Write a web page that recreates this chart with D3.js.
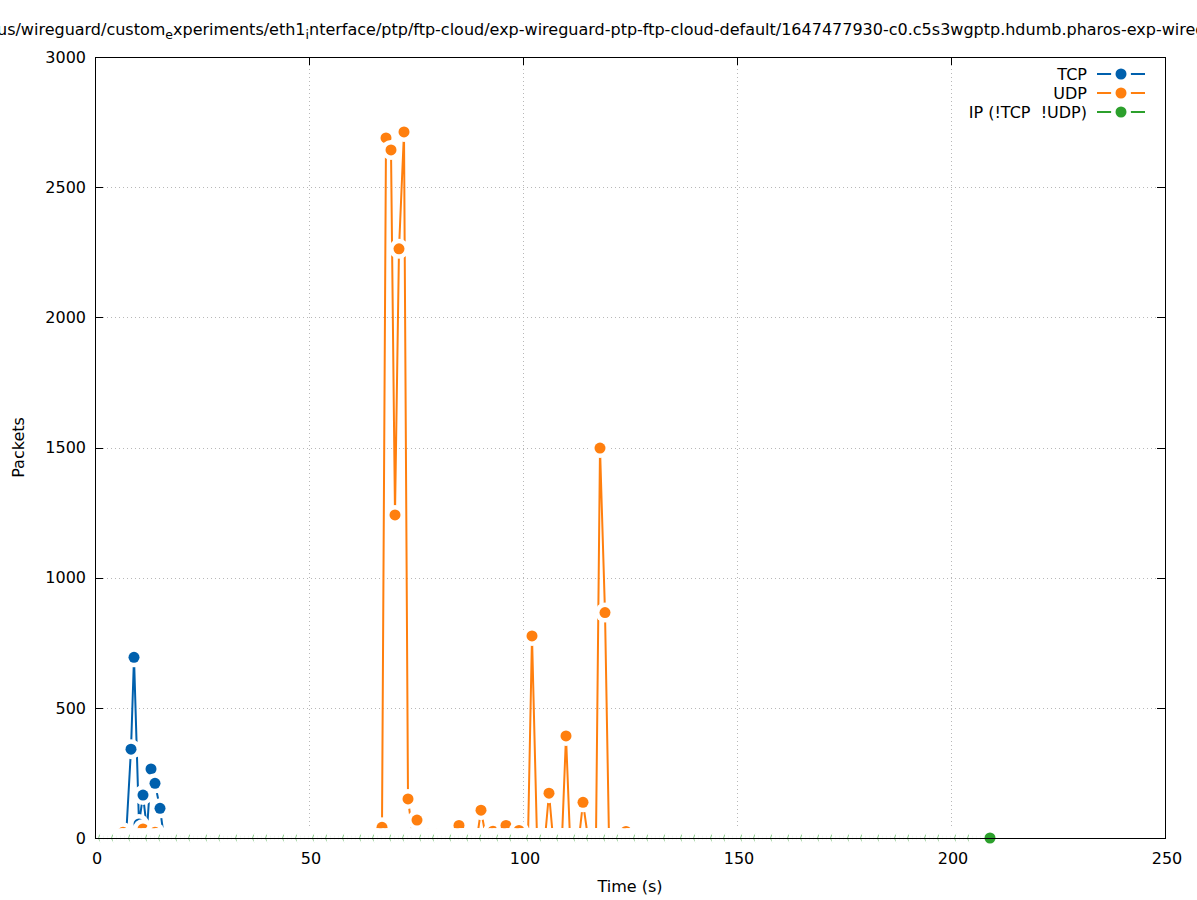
<!DOCTYPE html>
<html>
<head>
<meta charset="utf-8">
<script src="https://cdn.jsdelivr.net/npm/d3@7"></script>
<style>
  html, body { margin: 0; padding: 0; background: #fff; }
  svg { display: block; font-family: "DejaVu Sans", sans-serif; }
</style>
</head>
<body>
<svg id="chart" width="1197" height="900"></svg>
<script>
// ---------------- data ----------------
const seriesNames = ["TCP", "UDP", "IP (!TCP  !UDP)"];
const seriesColors = ["#0060ad", "#ff7f0e", "#2ca02c"];

const tcpTime  = [6.3, 7.3, 8.3, 9.2, 10.2, 11.3, 12.2, 13.2, 14.1, 15.3, 16.2, 17.2];
const tcpValue = [0,   0,   341, 694, 54,   165,  30,   265,  210,  114,  0,    0];

const udpTime  = [5.5, 6.5, 7.5, 10.1, 11.1, 12.1, 13.0, 14.0, 15.0,
                  66.1, 67.1, 68.0, 69.1, 70.1, 71.0, 72.1, 73.2, 74.2, 75.2, 76.2,
                  77.0, 77.9, 78.9, 79.9, 80.9, 84.0, 85.0, 86.0, 89.3, 90.3, 91.3,
                  92.1, 93.1, 94.1, 95.0, 96.0, 97.0, 98.1, 99.1, 100.1, 101.2, 102.2,
                  103.2, 105.1, 106.1, 107.1, 109.0, 110.0, 111.0, 113.1, 114.1, 115.1,
                  117.0, 118.0, 119.2, 120.2, 123.1, 124.1, 125.1];
const udpValue = [0, 22, 0, 0, 35, 0, 0, 22, 0,
                  0, 41, 2689, 2643, 1241, 2263, 2712, 150, 0, 69, 0,
                  0, 14, 0, 14, 0, 0, 48, 0, 0, 107, 0,
                  0, 26, 0, 0, 48, 0, 0, 29, 0, 0, 776,
                  0, 0, 172, 0, 0, 392, 0, 0, 137, 0,
                  0, 1498, 866, 0, 0, 25, 0];

const ipTime = [
  1.2, 2.2, 3.2, 4.2, 5.2, 6.2, 7.2, 8.2, 9.2, 10.2, 11.2, 12.2, 13.2, 14.2, 15.2, 16.2, 17.2, 18.2, 19.2, 20.2,
  21.2, 22.2, 23.2, 24.2, 25.2, 26.2, 27.2, 28.2, 29.2, 30.2, 31.2, 32.2, 33.2, 34.2, 35.2, 36.2, 37.2, 38.2, 39.2, 40.2,
  41.2, 42.2, 43.2, 44.2, 45.2, 46.2, 47.2, 48.2, 49.2, 50.2, 51.2, 52.2, 53.2, 54.2, 55.2, 56.2, 57.2, 58.2, 59.2, 60.2,
  61.2, 62.2, 63.2, 64.2, 65.2, 66.2, 67.2, 68.2, 69.2, 70.2, 71.2, 72.2, 73.2, 74.2, 75.2, 76.2, 77.2, 78.2, 79.2, 80.2,
  81.2, 82.2, 83.2, 84.2, 85.2, 86.2, 87.2, 88.2, 89.2, 90.2, 91.2, 92.2, 93.2, 94.2, 95.2, 96.2, 97.2, 98.2, 99.2, 100.2,
  101.2, 102.2, 103.2, 104.2, 105.2, 106.2, 107.2, 108.2, 109.2, 110.2, 111.2, 112.2, 113.2, 114.2, 115.2, 116.2, 117.2, 118.2, 119.2, 120.2,
  121.2, 122.2, 123.2, 124.2, 125.2, 126.2, 127.2, 128.2, 129.2, 130.2, 131.2, 132.2, 133.2, 134.2, 135.2, 136.2, 137.2, 138.2, 139.2, 140.2,
  141.2, 142.2, 143.2, 144.2, 145.2, 146.2, 147.2, 148.2, 149.2, 150.2, 151.2, 152.2, 153.2, 154.2, 155.2, 156.2, 157.2, 158.2, 159.2, 160.2,
  161.2, 162.2, 163.2, 164.2, 165.2, 166.2, 167.2, 168.2, 169.2, 170.2, 171.2, 172.2, 173.2, 174.2, 175.2, 176.2, 177.2, 178.2, 179.2, 180.2,
  181.2, 182.2, 183.2, 184.2, 185.2, 186.2, 187.2, 188.2, 189.2, 190.2, 191.2, 192.2, 193.2, 194.2, 195.2, 196.2, 197.2, 198.2, 199.2, 200.2,
  201.2, 202.2, 203.2, 204.2, 205.2, 206.2, 207.2, 208.2, 209.2];
const ipValue = [
  0,0,0,0,0,0,0,0,0,0,0,0,0,0,0,0,0,0,0,0,
  0,0,0,0,0,0,0,0,0,0,0,0,0,0,0,0,0,0,0,0,
  0,0,0,0,0,0,0,0,0,0,0,0,0,0,0,0,0,0,0,0,
  0,0,0,0,0,0,0,0,0,0,0,0,0,0,0,0,0,0,0,0,
  0,0,0,0,0,0,0,0,0,0,0,0,0,0,0,0,0,0,0,0,
  0,0,0,0,0,0,0,0,0,0,0,0,0,0,0,0,0,0,0,0,
  0,0,0,0,0,0,0,0,0,0,0,0,0,0,0,0,0,0,0,0,
  0,0,0,0,0,0,0,0,0,0,0,0,0,0,0,0,0,0,0,0,
  0,0,0,0,0,0,0,0,0,0,0,0,0,0,0,0,0,0,0,0,
  0,0,0,0,0,0,0,0,0,0,0,0,0,0,0,0,0,0,0,0,
  0,0,0,0,0,0,0,0,0];

const xTicks = [0, 50, 100, 150, 200, 250];
const yTicks = [0, 500, 1000, 1500, 2000, 2500, 3000];

const titleParts = [
  {text: "us/wireguard/custom", sub: false},
  {text: "e", sub: true},
  {text: "xperiments/eth1", sub: false},
  {text: "i", sub: true},
  {text: "nterface/ptp/ftp-cloud/exp-wireguard-ptp-ftp-cloud-default/1647477930-c0.c5s3wgptp.hdumb.pharos-exp-wireguard", sub: false}
];
const xLabel = "Time (s)";
const yLabel = "Packets";

// ---------------- drawing ----------------
const svg = d3.select("#chart");
const W = 1197, H = 900;
const pL = 95, pR = 1165, pT = 57, pB = 838;
const x = d3.scaleLinear().domain([0, 250]).range([pL, pR]);
const y = d3.scaleLinear().domain([0, 3000]).range([pB, pT]);

const PT_R = 5.5, HALO_R = 10;

svg.append("rect").attr("width", W).attr("height", H).attr("fill", "#fff");

// grid
const grid = svg.append("g").attr("stroke", "#b8b8b8").attr("stroke-width", 1)
  .attr("stroke-dasharray", "1,3").attr("fill", "none");
grid.selectAll("line.gx").data(xTicks.filter(d => d > 0 && d < 250)).join("line")
  .attr("x1", d => x(d) + 0.5).attr("x2", d => x(d) + 0.5)
  .attr("y1", pT).attr("y2", pB);
grid.selectAll("line.gy").data(yTicks.filter(d => d > 0 && d < 3000)).join("line")
  .attr("x1", pL).attr("x2", pR)
  .attr("y1", d => Math.round(y(d)) + 0.5).attr("y2", d => Math.round(y(d)) + 0.5);

// series
const series = [
  {name: seriesNames[0], color: seriesColors[0], t: tcpTime, v: tcpValue},
  {name: seriesNames[1], color: seriesColors[1], t: udpTime, v: udpValue},
  {name: seriesNames[2], color: seriesColors[2], t: ipTime, v: ipValue}
];

const px = t => Math.round(x(t));
const py = v => y(v);

series.forEach(s => {
  const pts = s.t.map((t, i) => ({t, v: s.v[i]}));
  const g = svg.append("g");
  g.append("path")
    .attr("d", d3.line().x(d => px(d.t)).y(d => py(d.v))(pts))
    .attr("fill", "none").attr("stroke", s.color).attr("stroke-width", 2)
    .attr("stroke-linejoin", "miter");
  const pg = g.selectAll("g.pt").data(pts).join("g").attr("class", "pt");
  pg.append("circle").attr("cx", d => px(d.t)).attr("cy", d => py(d.v))
    .attr("r", HALO_R).attr("fill", "#fff");
  pg.append("circle").attr("cx", d => px(d.t)).attr("cy", d => py(d.v))
    .attr("r", PT_R).attr("fill", s.color);
});

// border
svg.append("rect").attr("x", pL + 0.5).attr("y", pT + 0.5)
  .attr("width", pR - pL).attr("height", pB - pT)
  .attr("fill", "none").attr("stroke", "#000").attr("stroke-width", 1);

// ticks (left, right, top)
const tk = svg.append("g").attr("stroke", "#000").attr("stroke-width", 1);
yTicks.forEach(d => {
  const yy = Math.round(y(d)) + 0.5;
  tk.append("line").attr("x1", pL).attr("x2", pL + 8).attr("y1", yy).attr("y2", yy);
  tk.append("line").attr("x1", pR - 8).attr("x2", pR).attr("y1", yy).attr("y2", yy);
});
xTicks.forEach(d => {
  const xx = x(d) + 0.5;
  tk.append("line").attr("x1", xx).attr("x2", xx).attr("y1", pT).attr("y2", pT + 8);
});

// tick labels
const lab = svg.append("g").attr("font-size", 16).attr("fill", "#000");
lab.selectAll("text.yl").data(yTicks).join("text")
  .attr("x", 86).attr("y", d => y(d)).attr("dy", "0.36em")
  .attr("text-anchor", "end").text(d => d);
lab.selectAll("text.xl").data(xTicks).join("text")
  .attr("x", d => x(d) + 2).attr("y", 864)
  .attr("text-anchor", "middle").text(d => d);

// axis labels
svg.append("text").attr("x", (pL + pR) / 2).attr("y", 892)
  .attr("text-anchor", "middle").attr("font-size", 16).text(xLabel);
svg.append("text").attr("transform", `translate(24,${(pT + pB) / 2}) rotate(-90)`)
  .attr("text-anchor", "middle").attr("font-size", 16).text(yLabel);

// title (wider than the canvas, cut at both edges as in the original)
const title = svg.append("text").attr("x", -3).attr("y", 35).attr("font-size", 16);
titleParts.forEach((p, i) => {
  const prevSub = i > 0 && titleParts[i - 1].sub;
  title.append("tspan")
    .attr("dy", p.sub ? 4 : (prevSub ? -4 : 0))
    .attr("font-size", p.sub ? 12.5 : 16)
    .text(p.text);
});

// legend
const leg = svg.append("g").attr("font-size", 16);
series.forEach((s, i) => {
  const yy = 74 + i * 19;
  leg.append("text").attr("x", 1087).attr("y", yy).attr("dy", "0.36em")
    .attr("text-anchor", "end").style("white-space", "pre").text(s.name);
  leg.append("line").attr("x1", 1097).attr("x2", 1145).attr("y1", yy).attr("y2", yy)
    .attr("stroke", s.color).attr("stroke-width", 2);
  leg.append("circle").attr("cx", 1121).attr("cy", yy).attr("r", HALO_R).attr("fill", "#fff");
  leg.append("circle").attr("cx", 1121).attr("cy", yy).attr("r", PT_R).attr("fill", s.color);
});
</script>
</body>
</html>
